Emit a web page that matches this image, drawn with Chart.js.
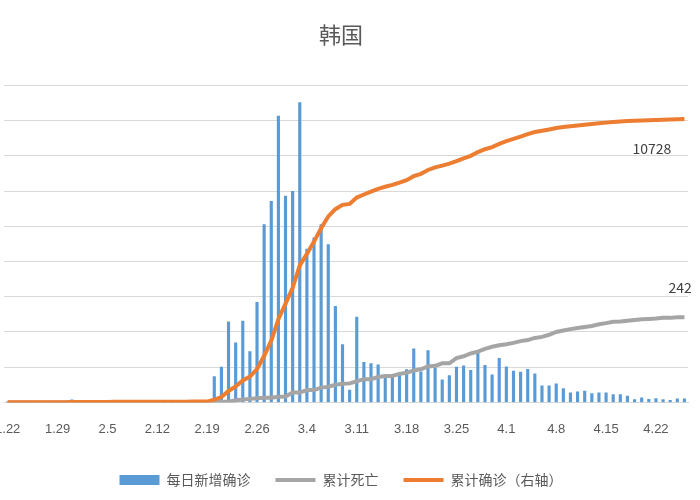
<!DOCTYPE html>
<html><head><meta charset="utf-8">
<script src="https://cdn.jsdelivr.net/npm/chart.js@4"></script>
<style>html,body{margin:0;padding:0;overflow:hidden;background:#fff;width:700px;height:500px}
#w{position:absolute;left:-16px;top:0;width:716px;height:500px}</style></head>
<body><div id="w"><canvas id="c"></canvas></div>
<script>
const dates=[];
const months=[[1,22,31],[2,1,29],[3,1,31],[4,1,26]];
for(const [m,s,e] of months){for(let d=s;d<=e;d++)dates.push(m+'.'+d);}
const dailyNew=[1,0,1,0,1,1,0,0,0,7,1,3,0,1,3,4,1,0,1,2,1,0,0,0,0,1,1,1,0,
73,100,229,169,231,144,284,505,571,813,
586,599,851,435,467,505,448,273,164,35,242,114,110,107,76,74,84,93,152,87,147,98,64,76,100,104,91,146,105,78,125,
101,89,86,94,81,47,47,53,39,27,30,32,25,27,27,22,22,18,8,13,9,11,8,6,10,10];
const cumDeaths=[0,0,0,0,0,0,0,0,0,0,0,0,0,0,0,0,0,0,0,0,0,0,0,0,0,0,0,0,0,
1,2,2,6,8,10,12,13,13,16,
17,28,28,35,35,42,44,50,53,54,60,66,66,72,75,75,81,84,91,94,102,104,111,111,126,131,139,144,152,158,162,
165,169,174,177,183,186,192,200,204,208,211,214,217,222,225,229,230,232,234,236,237,238,240,240,242,242];
const cumConfirmed=[1,1,2,2,3,4,4,4,4,11,12,15,15,16,19,23,24,24,25,27,28,28,28,28,28,29,30,31,31,
104,204,433,602,833,977,1261,1766,2337,3150,
3736,4335,5186,5621,6088,6593,7041,7314,7478,7513,7755,7869,7979,8086,8162,8236,8320,8413,8565,8652,8799,8897,8961,9037,9137,9241,9332,9478,9583,9661,9786,
9887,9976,10062,10156,10237,10284,10331,10384,10423,10450,10480,10512,10537,10564,10591,10613,10635,10653,10661,10674,10683,10694,10702,10708,10718,10728];
const seriesNames=['每日新增确诊','累计死亡','累计确诊（右轴）'];

const endLabels={id:'endLabels',afterDatasetsDraw(ch){
  const c=ch.ctx;c.save();c.font='14px "Noto Sans CJK SC", sans-serif';c.fillStyle='#404040';c.textBaseline='middle';
  const o=ch.getDatasetMeta(0).data.at(-1), g=ch.getDatasetMeta(1).data.at(-1);
  c.fillText(String(cumConfirmed.at(-1)),o.x-52,o.y+30);
  c.fillText(String(cumDeaths.at(-1)),g.x-16,g.y-29);
  c.restore();}};

new Chart(document.getElementById('c'),{
  data:{labels:dates,datasets:[
    {type:'line',label:seriesNames[2],data:cumConfirmed,yAxisID:'y1',borderColor:'#ed7d31',backgroundColor:'#ed7d31',borderWidth:4,pointRadius:0,pointStyle:'line',order:0},
    {type:'line',label:seriesNames[1],data:cumDeaths,yAxisID:'y',borderColor:'#a5a5a5',backgroundColor:'#a5a5a5',borderWidth:4,pointRadius:0,pointStyle:'line',order:1},
    {type:'bar',label:seriesNames[0],data:dailyNew,yAxisID:'y',backgroundColor:'#5b9bd5',borderWidth:0,barThickness:2.5,pointStyle:'rect',order:2}
  ]},
  options:{responsive:true,maintainAspectRatio:false,animation:false,
    layout:{padding:{left:10,right:12,top:0,bottom:3}},
    plugins:{
      title:{display:true,text:'韩国',color:'#595959',font:{size:22,family:'"Noto Sans CJK SC", sans-serif',weight:'normal'},padding:{top:21,bottom:38}},
      legend:{position:'bottom',reverse:true,labels:{usePointStyle:true,pointStyleWidth:40,boxHeight:10,color:'#595959',padding:25,font:{size:14,family:'"Noto Sans CJK SC", sans-serif'}}},
      tooltip:{enabled:false}},
    scales:{
      x:{offset:true,grid:{display:false},border:{color:'#d9d9d9'},
        ticks:{autoSkip:false,maxRotation:0,color:'#595959',font:{size:13},padding:11,callback:(v,i)=>i%7===0?dates[i]:''}},
      y:{min:0,max:900,ticks:{display:false,stepSize:100},grid:{color:'#d9d9d9',drawTicks:false},border:{display:false},afterFit(s){s.width=0;}},
      y1:{display:false,position:'right',min:0,max:12000}
    }},
  plugins:[endLabels]
});
</script></body></html>
